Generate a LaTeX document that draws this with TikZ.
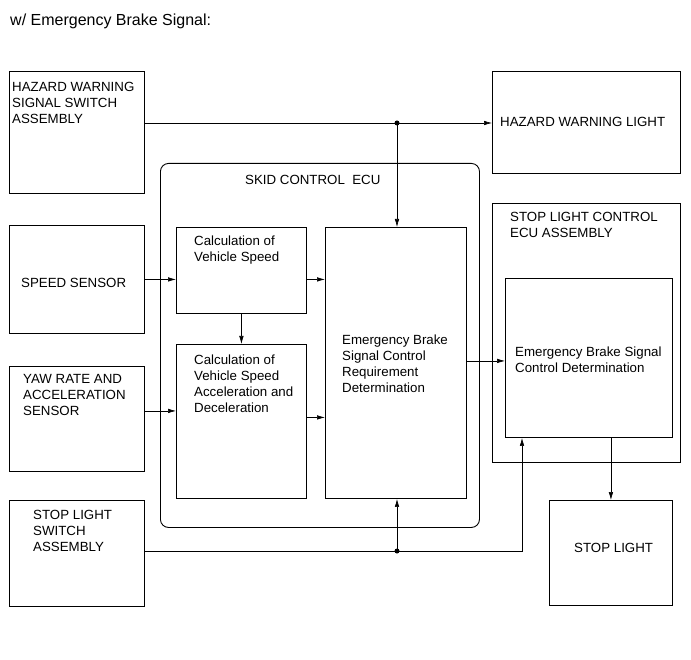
\documentclass[tikz,border=0pt]{standalone}
\usepackage{fontspec}
\setmainfont{Liberation Sans}
\usepackage{tikz}
\usetikzlibrary{arrows.meta, positioning}

\tikzset{
  box/.style={draw, line width=0.9pt, rectangle, anchor=north west, inner sep=0pt},
  txt/.style={inner sep=0pt, align=left, font=\fontsize{13.3}{16}\selectfont},
  conn/.style={line width=0.6pt},
  arr/.style={conn, -{Latex[length=8pt,width=4.5pt]}},
}

\begin{document}
\begin{tikzpicture}[x=1pt, y=-1pt]
  \useasboundingbox (0,0) rectangle (691,660);
  \node[txt, anchor=north west, font=\fontsize{16}{19}\selectfont] (title) at (10,14) {w/ Emergency Brake Signal:};

  % outer boxes
  \node[box, minimum width=135pt, minimum height=122pt] (hzsw) at (9,71) {};
  \node[box, minimum width=135pt, minimum height=108pt] (spd) at (9,225) {};
  \node[box, minimum width=135pt, minimum height=105pt] (yaw) at (9,366) {};
  \node[box, minimum width=135pt, minimum height=106pt] (slsw) at (9,500) {};
  \node[box, minimum width=188pt, minimum height=102pt] (hzlt) at (492,71) {};
  \node[box, minimum width=188pt, minimum height=259pt] (slecu) at (492,203) {};
  \node[box, minimum width=123pt, minimum height=105pt] (sl) at (549,500) {};
  \node[box, rounded corners=8pt, minimum width=319pt, minimum height=364pt] (skid) at (160,163) {};

  % inner boxes
  \node[box, minimum width=130pt, minimum height=86pt] (cvs) at (176,227) {};
  \node[box, minimum width=130pt, minimum height=154pt] (cva) at (176,344) {};
  \node[box, minimum width=141pt, minimum height=271pt] (ebr) at (325,227) {};
  \node[box, minimum width=167pt, minimum height=159pt] (ebd) at (505,278) {};

  % texts
  \node[txt, below right=11pt and 3pt of hzsw.north west] {HAZARD WARNING\\SIGNAL SWITCH\\ASSEMBLY};
  \node[txt, below right=53pt and 12pt of spd.north west] {SPEED SENSOR};
  \node[txt, below right=8pt and 14pt of yaw.north west] {YAW RATE AND\\ACCELERATION\\SENSOR};
  \node[txt, below right=10pt and 24pt of slsw.north west] {STOP LIGHT\\SWITCH\\ASSEMBLY};
  \node[txt, below right=46pt and 8pt of hzlt.north west] {HAZARD WARNING LIGHT};
  \node[txt, below right=9pt and 18pt of slecu.north west] {STOP LIGHT CONTROL\\ECU ASSEMBLY};
  \node[txt, below right=43pt and 25pt of sl.north west] {STOP LIGHT};
  \node[txt, below right=12pt and 85pt of skid.north west] {SKID CONTROL\ \ ECU};
  \node[txt, below right=9pt and 18pt of cvs.north west] {Calculation of\\Vehicle Speed};
  \node[txt, below right=11pt and 18pt of cva.north west] {Calculation of\\Vehicle Speed\\Acceleration and\\Deceleration};
  \node[txt, below right=108pt and 17pt of ebr.north west] {Emergency Brake\\Signal Control\\Requirement\\Determination};
  \node[txt, below right=69pt and 10pt of ebd.north west] {Emergency Brake Signal\\Control Determination};

  % connectors
  \coordinate (hzj) at (397,123);
  \coordinate (slj) at (397,551);
  \draw[conn] (hzsw.east |- hzj) -- (hzj);
  \draw[arr] (hzj) -- (hzlt.west |- hzj);
  \draw[arr] (hzj) -- (hzj |- ebr.north);
  \fill (hzj) circle (2.5pt);

  \draw[arr] (spd.east) -- (spd.east -| cvs.west);
  \draw[arr] (cvs.east |- spd.east) -- (ebr.west |- spd.east);
  \draw[arr] (cvs.south) -- (cva.north);
  \draw[arr] ([yshift=8pt]yaw.east) -- ([yshift=8pt]yaw.east -| cva.west);
  \draw[arr] ([yshift=4pt]cva.east) -- ([yshift=4pt]cva.east -| ebr.west);
  \draw[arr] ([yshift=2pt]ebr.east) -- ([yshift=2pt]ebr.east -| ebd.west);

  \draw[conn] (slsw.east |- slj) -- (slj);
  \draw[arr] (slj) -- (slj |- ebr.south);
  \draw[arr] (slj) -| ([xshift=17pt]ebd.south west);
  \fill (slj) circle (2.5pt);
  \draw[arr] (ebd.south -| sl.north) -- (sl.north);
\end{tikzpicture}
\end{document}
